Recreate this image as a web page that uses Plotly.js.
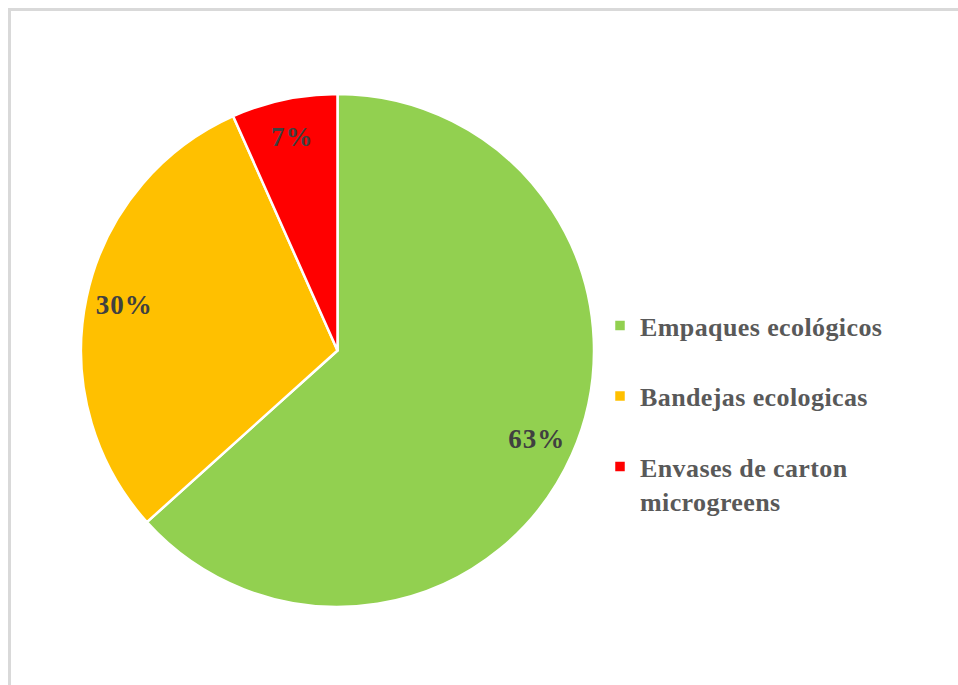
<!DOCTYPE html>
<html>
<head>
<meta charset="utf-8">
<script src="https://cdn.plot.ly/plotly-3.0.1.min.js"></script>
<style>
  html, body { margin: 0; padding: 0; background: #ffffff; overflow: hidden; }
  #chart { width: 958px; height: 685px; position: absolute; left: 0; top: 0; }
  #frame { position: absolute; left: 8px; top: 8px; width: 1200px; height: 1000px;
           border-top: 3px solid #d9d9d9; border-left: 3px solid #d9d9d9; pointer-events: none; }
  #chart .legendtext { letter-spacing: 0.4px; }
  #chart .legend .scrollbox { clip-path: none !important; }
  #chart .slicetext { letter-spacing: 1px; }
</style>
</head>
<body>
<div id="chart"></div>
<div id="frame"></div>
<script>
// Data
const categories = ["Empaques ecológicos", "Bandejas ecologicas", "Envases de carton<br>microgreens"];
const legendLabels = ["Empaques ecológicos<br>\u00a0", "Bandejas ecologicas<br>\u00a0", "Envases de carton<br>microgreens"];
const values = [19, 9, 2];
const colors = ["#92D050", "#FFC000", "#FF0000"];

const dom = { x: [81 / 958, 594 / 958], y: [1 - 607 / 685, 1 - 94 / 685] };

const pieTrace = {
  type: "pie",
  labels: legendLabels,
  values: values,
  sort: false,
  direction: "clockwise",
  rotation: 0,
  domain: dom,
  marker: { colors: colors, line: { color: "#ffffff", width: 2.5 } },
  textinfo: "none",
  hoverinfo: "label+percent",
  showlegend: true
};

// transparent ring carrying the percentage labels near the outer edge
const labelTrace = {
  type: "pie",
  labels: legendLabels,
  values: values,
  sort: false,
  direction: "clockwise",
  rotation: 0,
  hole: 0.7,
  domain: dom,
  marker: { colors: ["rgba(0,0,0,0)", "rgba(0,0,0,0)", "rgba(0,0,0,0)"], line: { width: 0 } },
  textinfo: "percent",
  textposition: "inside",
  insidetextorientation: "horizontal",
  texttemplate: "%{percent:.0%}",
  textfont: { family: "Liberation Serif, Times New Roman, serif", size: 27, color: "#404040", weight: "bold" },
  hoverinfo: "skip",
  showlegend: false
};

const layout = {
  width: 958,
  height: 685,
  margin: { l: 0, r: 0, t: 0, b: 0 },
  paper_bgcolor: "#ffffff",
  showlegend: true,
  legend: {
    x: 600 / 958,
    xanchor: "left",
    y: 1 - 302 / 685,
    yanchor: "top",
    valign: "top",
    traceorder: "normal",
    bgcolor: "rgba(0,0,0,0)",
    font: { family: "Liberation Serif, Times New Roman, serif", size: 26, color: "#595959", weight: "bold" }
  }
};

Plotly.newPlot("chart", [pieTrace, labelTrace], layout, { displayModeBar: false, staticPlot: true });
</script>
</body>
</html>
